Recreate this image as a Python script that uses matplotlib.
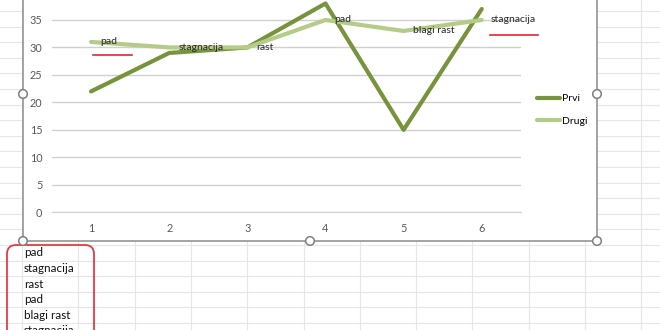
import matplotlib.pyplot as plt
from matplotlib.patches import Rectangle, Circle, FancyBboxPatch

plt.rcParams['font.family'] = ['Lato', 'DejaVu Sans']

# chart data
categories = [1, 2, 3, 4, 5, 6]
prvi = [22, 29, 30, 38, 15, 37]
drugi = [31, 30, 30, 35, 33, 35]
labels = ['pad', 'stagnacija', 'rast', 'pad', 'blagi rast', 'stagnacija']
y_ticks = [0, 5, 10, 15, 20, 25, 30, 35]

W, H = 660, 330
fig = plt.figure(figsize=(6.6, 3.3), dpi=100)

# spreadsheet background, pixel coordinates
bg = fig.add_axes([0, 0, 1, 1], zorder=0)
bg.set_xlim(0, W)
bg.set_ylim(H, 0)
bg.axis('off')
grid_c = '#e6e6e6'
for i in range(12):
    x = 22 + 56.3 * i
    bg.plot([x, x], [0, H], color=grid_c, lw=0.8)
for i in range(-15, 6):
    y = 245 + 15.6 * i
    bg.plot([0, W], [y, y], color=grid_c, lw=0.8)

# chart area (white, cut off at top)
bg.add_patch(Rectangle((23, -5), 574, 246, facecolor='white', edgecolor='#8c8c8c', lw=1.1, zorder=3))

# cell texts in column A
for i, t in enumerate(labels):
    bg.text(24, 252.8 + 15.6 * i, t, fontsize=8.4, va='center', ha='left', color='#111111', zorder=4)
bg.add_patch(FancyBboxPatch((7, 245), 87, 120, boxstyle='round,pad=0,rounding_size=9',
                            facecolor='none', edgecolor='#e83a45', lw=1.3, zorder=5))

# the chart itself
ax = fig.add_axes([52 / W, (H - 212.3) / H, 468.8 / W, 219.8 / H], zorder=1)
ax.patch.set_alpha(0)
ax.plot(categories, prvi, color='#77933c', lw=3, solid_capstyle='round', label='Prvi')
ax.plot(categories, drugi, color='#b4cc86', lw=3, solid_capstyle='round', label='Drugi')
for x, y, t in zip(categories, drugi, labels):
    ax.annotate(t, (x, y), xytext=(9, 0), textcoords='offset pixels', va='center', ha='left',
                fontsize=7.5, color='#262626', zorder=5)
ax.set_xlim(0.5, 6.5)
ax.set_ylim(0, 40)
ax.set_xticks(categories)
ax.set_yticks(y_ticks)
ax.tick_params(length=0, labelsize=7.8, labelcolor='#595959')
ax.tick_params(axis='y', pad=7)
ax.tick_params(axis='x', pad=8)
ax.grid(axis='y', color='#d0d0d0', lw=1)
ax.set_axisbelow(True)
for s in ['top', 'right', 'left']:
    ax.spines[s].set_visible(False)
ax.spines['bottom'].set_color('#d0d0d0')
ax.legend(loc='upper left', bbox_to_anchor=(537 / W, 1 - 94 / H), bbox_transform=fig.transFigure,
          frameon=False, fontsize=7.5, handlelength=2.2, handletextpad=0.2, labelspacing=1.25,
          borderpad=0, borderaxespad=0)

# overlay: spelling underlines and selection handles
ov = fig.add_axes([0, 0, 1, 1], zorder=2)
ov.set_xlim(0, W)
ov.set_ylim(H, 0)
ov.axis('off')
ov.plot([93, 132], [55, 55], color='#e8252f', lw=1.2)
ov.plot([490, 538], [35, 35], color='#e8252f', lw=1.2)
for (hx, hy) in [(23, 94), (23, 241), (310, 241), (597, 241), (597, 94)]:
    ov.add_patch(Circle((hx, hy), 4.3, facecolor='white', edgecolor='#7f7f7f', lw=1.1))

fig.savefig('out.png', dpi=100)
